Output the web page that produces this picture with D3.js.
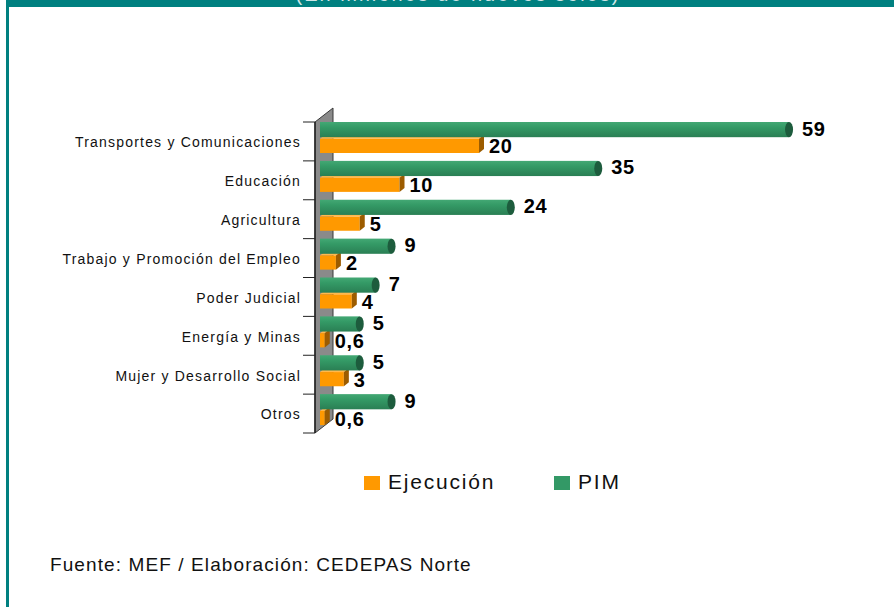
<!DOCTYPE html>
<html>
<head>
<meta charset="utf-8">
<script src="https://cdn.jsdelivr.net/npm/d3@7"></script>
<style>
  body { margin: 0; background: #fff; }
  svg { display: block; font-family: "Liberation Sans", Arial, sans-serif; }
</style>
</head>
<body>
<div class="chart"></div>
<script>
const categories = ["Transportes y Comunicaciones", "Educación", "Agricultura",
  "Trabajo y Promoción del Empleo", "Poder Judicial", "Energía y Minas",
  "Mujer y Desarrollo Social", "Otros"];
const pim = [59, 35, 24, 9, 7, 5, 5, 9];
const ejecucion = [20, 10, 5, 2, 4, 0.6, 3, 0.6];
const valueLabelsPim = ["59", "35", "24", "9", "7", "5", "5", "9"];
const valueLabelsEje = ["20", "10", "5", "2", "4", "0,6", "3", "0,6"];

const width = 894, height = 607;
const teal = "#008080";
const orange = "#ff9900", orangeDark = "#9c5c00";
const green = "#339966", greenDark = "#1d5c3d";

const svg = d3.select(".chart").append("svg")
  .attr("width", width)
  .attr("height", height);

const defs = svg.append("defs");
const gg = defs.append("linearGradient").attr("id", "gGreen")
  .attr("x1", 0).attr("y1", 0).attr("x2", 0).attr("y2", 1);
gg.append("stop").attr("offset", "0%").attr("stop-color", "#43a874");
gg.append("stop").attr("offset", "35%").attr("stop-color", "#349a66");
gg.append("stop").attr("offset", "100%").attr("stop-color", "#2a7f54");

// frame
svg.append("rect").attr("x", 6).attr("y", 0).attr("width", width - 6).attr("height", 7).attr("fill", teal);
svg.append("rect").attr("x", 6).attr("y", 0).attr("width", 3).attr("height", height).attr("fill", teal);
svg.append("text")
  .attr("x", 458).attr("y", 1)
  .attr("text-anchor", "middle")
  .attr("fill", "#cfe6e6")
  .style("font-size", "20px")
  .style("letter-spacing", "2px")
  .text("(En millones de nuevos soles)");

// scales
const x = d3.scaleLinear().domain([0, 60]).range([320, 797]);
const y = d3.scaleBand().domain(categories).range([122, 433]);
const sub = d3.scaleBand().domain(["PIM", "Ejecución"]).range([0, 31]).paddingInner(0.04);

// wall
const wallTop = y.range()[0], wallBottom = y.range()[1];
svg.append("path")
  .attr("d", `M315,${wallTop} L333,${wallTop - 14} L333,${wallBottom - 14} L315,${wallBottom} Z`)
  .attr("fill", "#8a8a8a")
  .attr("stroke", "#3a3a3a")
  .attr("stroke-width", 1);
svg.append("line")
  .attr("x1", 315).attr("x2", 315).attr("y1", wallTop).attr("y2", wallBottom)
  .attr("stroke", "#222").attr("stroke-width", 1.5);

// ticks between categories
const tickYs = categories.map(c => y(c)).concat([wallBottom]);
svg.selectAll(".tick")
  .data(tickYs)
  .enter()
  .append("line")
  .attr("x1", 303).attr("x2", 315)
  .attr("y1", d => d).attr("y2", d => d)
  .attr("stroke", "#222").attr("stroke-width", 1);

// category labels
svg.selectAll(".cat")
  .data(categories)
  .enter()
  .append("text")
  .attr("x", 301)
  .attr("y", d => y(d) + y.bandwidth() / 2 + 1)
  .attr("dy", "0.35em")
  .attr("text-anchor", "end")
  .style("font-size", "14px")
  .style("letter-spacing", "1.2px")
  .attr("fill", "#111")
  .text(d => d);

const rows = categories.map((c, i) => ({ c, pim: pim[i], eje: ejecucion[i], lp: valueLabelsPim[i], le: valueLabelsEje[i] }));

// orange bars (drawn first so green sits on top)
const ob = svg.selectAll(".ob").data(rows).enter().append("g");
ob.append("path")
  .attr("d", d => {
    const y0 = y(d.c) + sub("Ejecución") + 1, xe = x(d.eje);
    return `M320,${y0} L${xe},${y0} L${xe + 5},${y0 - 4} L325,${y0 - 4} Z`;
  })
  .attr("fill", "#ffb84d");
ob.append("rect")
  .attr("x", x(0))
  .attr("y", d => y(d.c) + sub("Ejecución") + 1)
  .attr("width", d => x(d.eje) - x(0))
  .attr("height", sub.bandwidth() - 1)
  .attr("fill", orange);
ob.append("path")
  .attr("d", d => {
    const y0 = y(d.c) + sub("Ejecución") + 1, h = sub.bandwidth() - 1, xe = x(d.eje);
    return `M${xe},${y0} L${xe + 5},${y0 - 4} L${xe + 5},${y0 + h - 4} L${xe},${y0 + h} Z`;
  })
  .attr("fill", orangeDark);

// green bars
const gb = svg.selectAll(".gb").data(rows).enter().append("g");
gb.append("rect")
  .attr("x", x(0))
  .attr("y", d => y(d.c) + sub("PIM"))
  .attr("width", d => x(d.pim) - x(0))
  .attr("height", sub.bandwidth())
  .attr("fill", "url(#gGreen)");
gb.append("ellipse")
  .attr("cx", d => x(d.pim))
  .attr("cy", d => y(d.c) + sub("PIM") + sub.bandwidth() / 2)
  .attr("rx", 4)
  .attr("ry", sub.bandwidth() / 2)
  .attr("fill", greenDark);

// value labels
svg.selectAll(".lp").data(rows).enter().append("text")
  .attr("x", d => x(d.pim) + 13)
  .attr("y", d => y(d.c) + sub("PIM") + sub.bandwidth() / 2 - 1)
  .attr("dy", "0.35em")
  .style("font-size", "20px").style("font-weight", "bold")
  .style("letter-spacing", "0.6px")
  .attr("fill", "#000")
  .text(d => d.lp);
svg.selectAll(".le").data(rows).enter().append("text")
  .attr("x", d => x(d.eje) + 10)
  .attr("y", d => y(d.c) + sub("Ejecución") + sub.bandwidth() / 2 + 1)
  .attr("dy", "0.35em")
  .style("font-size", "20px").style("font-weight", "bold")
  .style("letter-spacing", "0.6px")
  .attr("fill", "#000")
  .text(d => d.le);

// legend
const legendItems = [{ name: "Ejecución", color: orange, x: 364 }, { name: "PIM", color: green, x: 554 }];
const legend = svg.selectAll(".legend").data(legendItems).enter().append("g");
legend.append("rect")
  .attr("x", d => d.x).attr("y", 476)
  .attr("width", 16).attr("height", 14)
  .attr("fill", d => d.color);
legend.append("text")
  .attr("x", d => d.x + 24).attr("y", 489)
  .style("font-size", "21px")
  .style("letter-spacing", "1.8px")
  .attr("fill", "#111")
  .text(d => d.name);

// source
svg.append("text")
  .attr("x", 50).attr("y", 571)
  .style("font-size", "19px")
  .style("letter-spacing", "1.1px")
  .attr("fill", "#111")
  .text("Fuente: MEF / Elaboración: CEDEPAS Norte");
</script>
</body>
</html>
